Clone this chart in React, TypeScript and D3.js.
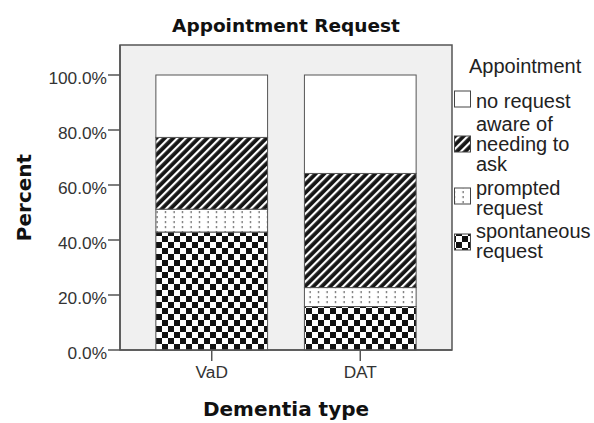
import React from 'react';
import * as d3 from 'd3';

// chart data
const categories = ['VaD', 'DAT'];
const spontaneous = [42.9, 15.8];
const prompted = [8.3, 6.9];
const aware = [26.1, 41.5];
const noRequest = [22.7, 35.8];
const yTicks = [0, 20, 40, 60, 80, 100];

const seriesKeys = ['spontaneous', 'prompted', 'aware', 'noRequest'];
const legendKeys = ['noRequest', 'aware', 'prompted', 'spontaneous'];
const legendLabels = [['no request'], ['aware of', 'needing to', 'ask'], ['prompted', 'request'], ['spontaneous', 'request']];

const W = 594, H = 423;
const frame = { left: 120, right: 452, top: 45, bottom: 350 };

const fills: Record<string, string> = {
  spontaneous: 'url(#checker)',
  prompted: 'url(#dots)',
  aware: 'url(#hatch)',
  noRequest: '#ffffff',
};

const sans = '"Liberation Sans", Arial, sans-serif';
const bold = '"DejaVu Sans", Verdana, sans-serif';

export default function App() {
  const table = categories.map((c, i) => ({
    category: c,
    spontaneous: spontaneous[i],
    prompted: prompted[i],
    aware: aware[i],
    noRequest: noRequest[i],
  }));

  const x = d3.scaleBand<string>()
    .domain(categories)
    .range([frame.left, frame.right])
    .paddingInner(0.248)
    .paddingOuter(0.2415);

  const y = d3.scaleLinear().domain([0, 100]).range([frame.bottom, 75]);

  const stacked = d3.stack<any>().keys(seriesKeys)(table);
  const fmt = (v: number) => v.toFixed(1) + '%';

  // legend layout (baselines of first line, swatch tops)
  const legendBase = [108, 131, 195, 238];
  const swatchTop = [91, 136, 188, 234];

  return (
    <svg width={W} height={H} style={{ position: 'absolute', left: 0, top: 0, background: '#fff' }}>
      <defs>
        <pattern id="hatch" patternUnits="userSpaceOnUse" width={6} height={6} patternTransform="rotate(45)">
          <rect width={6} height={6} fill="#151515" />
          <rect x={0} width={2.2} height={6} fill="#ffffff" />
        </pattern>
        <pattern id="dots" patternUnits="userSpaceOnUse" width={8.5} height={5}>
          <rect width={8.5} height={5} fill="#ffffff" />
          <rect x={3.5} y={1} width={1.2} height={2.2} fill="#666" />
        </pattern>
        <pattern id="checker" patternUnits="userSpaceOnUse" width={12} height={12} x={0} y={2}>
          <rect width={12} height={12} fill="#ffffff" />
          <rect x={0} y={0} width={6} height={6} fill="#111" />
          <rect x={6} y={6} width={6} height={6} fill="#111" />
        </pattern>
      </defs>

      <text x={(frame.left + frame.right) / 2} y={32} textAnchor="middle"
        fontFamily={bold} fontWeight="bold" fontSize={18.5} fill="#111">Appointment Request</text>

      <rect x={frame.left} y={frame.top} width={frame.right - frame.left} height={frame.bottom - frame.top}
        fill="#f0f0f0" stroke="#555" strokeWidth={1.5} />

      {stacked.map((s) => (
        <g key={s.key}>
          {s.map((d, i) => (
            <rect key={i}
              x={x(categories[i])}
              y={y(d[1])}
              width={x.bandwidth()}
              height={y(d[0]) - y(d[1])}
              fill={fills[s.key]}
              stroke="#555" strokeWidth={1} />
          ))}
        </g>
      ))}

      {/* y axis */}
      <line x1={frame.left} x2={frame.left} y1={frame.top} y2={frame.bottom} stroke="#555" strokeWidth={1.5} />
      {yTicks.map((t) => (
        <g key={t}>
          <line x1={frame.left - 12} x2={frame.left} y1={y(t)} y2={y(t)} stroke="#555" strokeWidth={1.5} />
          <text x={frame.left - 13} y={y(t) + 8.5} textAnchor="end" fontFamily={sans} fontSize={17.3} fill="#333">{fmt(t)}</text>
        </g>
      ))}

      {/* x axis */}
      <line x1={frame.left} x2={frame.right} y1={frame.bottom} y2={frame.bottom} stroke="#555" strokeWidth={1.5} />
      {categories.map((c) => {
        const cx = (x(c) as number) + x.bandwidth() / 2;
        return (
          <g key={c}>
            <line x1={cx} x2={cx} y1={frame.bottom} y2={frame.bottom + 11} stroke="#555" strokeWidth={1.5} />
            <text x={cx} y={378} textAnchor="middle" fontFamily={sans} fontSize={17.3} fill="#333">{c}</text>
          </g>
        );
      })}

      <text x={(frame.left + frame.right) / 2} y={416} textAnchor="middle"
        fontFamily={bold} fontWeight="bold" fontSize={20} fill="#111">Dementia type</text>
      <text transform={`translate(31,${(frame.top + frame.bottom) / 2}) rotate(-90)`} textAnchor="middle"
        fontFamily={bold} fontWeight="bold" fontSize={20} fill="#111">Percent</text>

      {/* legend */}
      <text x={469} y={73} fontFamily={sans} fontSize={20} fill="#222">Appointment</text>
      {legendKeys.map((k, i) => (
        <g key={k}>
          <rect x={454.5} y={swatchTop[i]} width={16} height={16} fill={fills[k]} stroke="#444" strokeWidth={1} />
          {legendLabels[i].map((line, j) => (
            <text key={j} x={476} y={legendBase[i] + j * 20} fontFamily={sans} fontSize={20} fill="#222">{line}</text>
          ))}
        </g>
      ))}
    </svg>
  );
}
